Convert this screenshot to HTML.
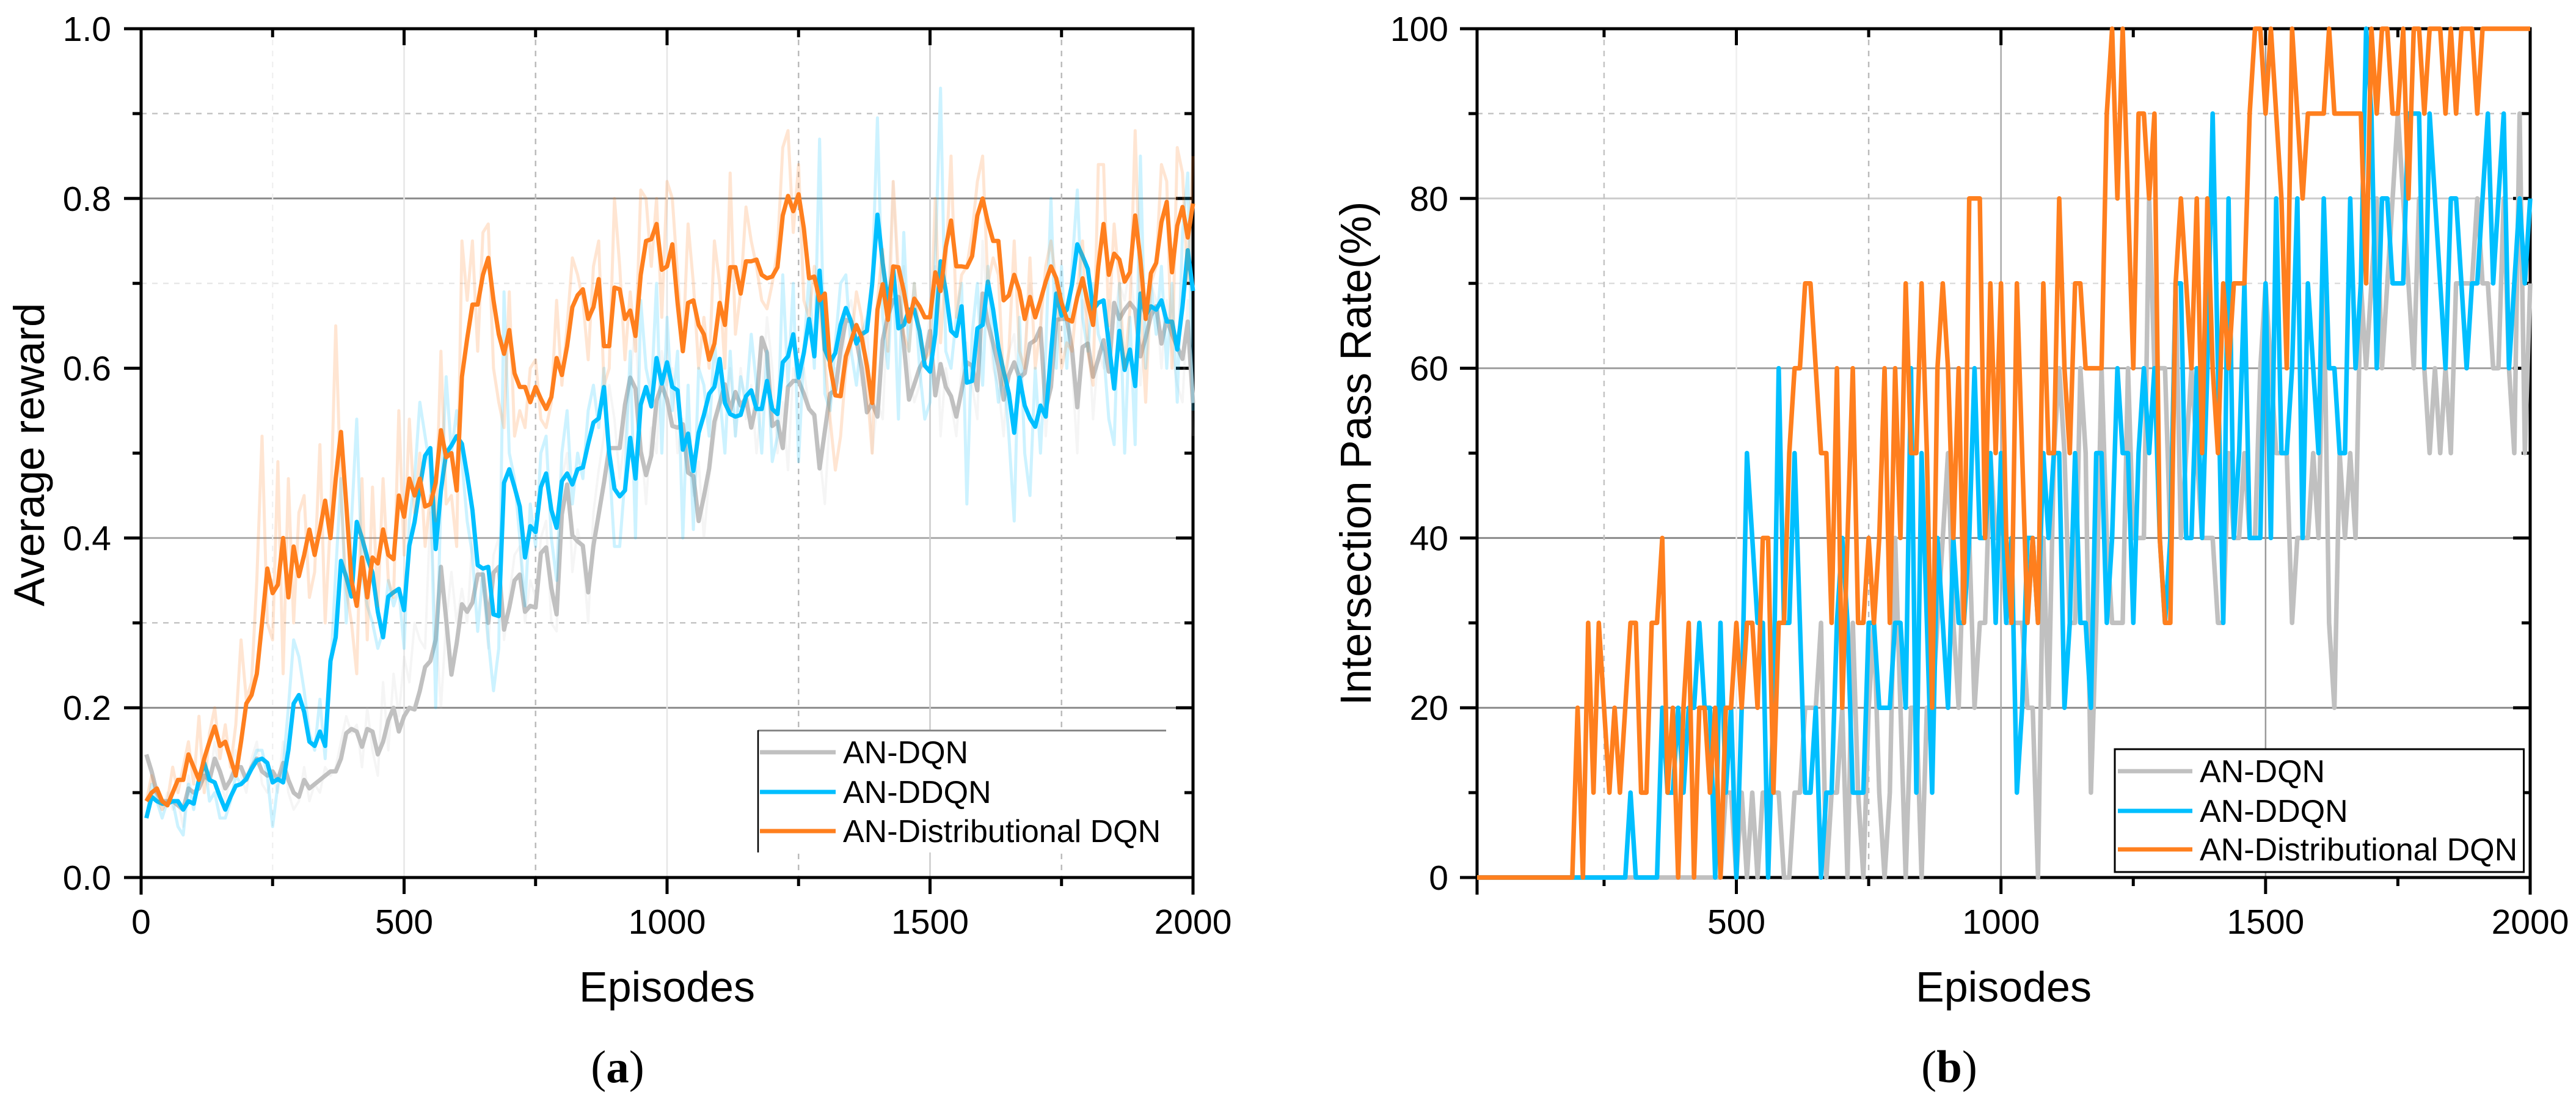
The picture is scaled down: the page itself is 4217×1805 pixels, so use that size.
<!DOCTYPE html>
<html lang="en">
<head>
<meta charset="utf-8">
<title>Average reward and intersection pass rate</title>
<style>
html,body{margin:0;padding:0;background:#fff;}
svg{display:block;font-family:"Liberation Sans",Arial,sans-serif;}
</style>
</head>
<body>
<svg id="figure" xmlns="http://www.w3.org/2000/svg" width="4217" height="1805" viewBox="0 0 4217 1805">
  <rect x="0" y="0" width="4217" height="1805" fill="#fff"/>
  <g id="chart-a"></g>
  <g id="chart-b"></g>

  <text transform="translate(72,744) rotate(-90)" text-anchor="middle" font-size="70.5">Average reward</text>
  <text x="1092" y="1639" text-anchor="middle" font-size="70">Episodes</text>
  <text x="1011" y="1771" text-anchor="middle" font-size="75" style="font-family:'Liberation Serif',serif">(<tspan font-weight="bold">a</tspan>)</text>

  <text transform="translate(2244,742) rotate(-90)" text-anchor="middle" font-size="71">Intersection Pass Rate(%)</text>
  <text x="3280" y="1639" text-anchor="middle" font-size="70">Episodes</text>
  <text x="3191" y="1771" text-anchor="middle" font-size="75" style="font-family:'Liberation Serif',serif">(<tspan font-weight="bold">b</tspan>)</text>

  <g>
    <rect x="1241" y="1195" width="668" height="200" fill="#fff"/>
    <line x1="1241" y1="1195.5" x2="1909" y2="1195.5" stroke="#888" stroke-width="3"/>
    <line x1="1241" y1="1195" x2="1241" y2="1395" stroke="#000" stroke-width="2.5"/>
    <g>
      <line x1="1244" y1="1231" x2="1368" y2="1231" stroke="#C0C0C0" stroke-width="7"/>
      <text x="1380" y="1249" font-size="52">AN-DQN</text>
    </g>
    <g>
      <line x1="1244" y1="1296" x2="1368" y2="1296" stroke="#00BFFF" stroke-width="7"/>
      <text x="1380" y="1314" font-size="52">AN-DDQN</text>
    </g>
    <g>
      <line x1="1244" y1="1360" x2="1368" y2="1360" stroke="#FF7F1E" stroke-width="7"/>
      <text x="1380" y="1378" font-size="52">AN-Distributional DQN</text>
    </g>
  </g>

  <g>
    <rect x="3462" y="1226" width="669.5" height="201" fill="#fff" stroke="#000" stroke-width="3"/>
    <g>
      <line x1="3467" y1="1262" x2="3589" y2="1262" stroke="#C0C0C0" stroke-width="7"/>
      <text x="3601" y="1280" font-size="52">AN-DQN</text>
    </g>
    <g>
      <line x1="3467" y1="1327" x2="3589" y2="1327" stroke="#00BFFF" stroke-width="7"/>
      <text x="3601" y="1345" font-size="52">AN-DDQN</text>
    </g>
    <g>
      <line x1="3467" y1="1390" x2="3589" y2="1390" stroke="#FF7F1E" stroke-width="7"/>
      <text x="3601" y="1408" font-size="52">AN-Distributional DQN</text>
    </g>
  </g>
</svg>

<script>
// Panel (a): one value every 10 episodes, starting at episode 10
const rewardDqn = [
.145,.125,.10,.09,.09,.09,.085,.08,.105,.10,
.105,.12,.115,.14,.125,.105,.115,.13,.13,.115,
.13,.14,.125,.12,.125,.115,.135,.115,.10,.095,
.115,.105,.11,.115,.12,.125,.125,.14,.17,.175,
.172,.154,.175,.172,.145,.16,.185,.20,.172,.19,
.20,.198,.22,.248,.255,.28,.366,.304,.239,.276,
.322,.313,.324,.357,.357,.30,.359,.366,.292,.318,
.35,.357,.313,.32,.318,.382,.389,.341,.31,.428,
.463,.403,.396,.391,.336,.391,.428,.465,.506,.506,
.506,.557,.589,.576,.502,.474,.497,.562,.58,.563,
.532,.53,.534,.477,.473,.42,.449,.482,.537,.559,
.581,.55,.572,.556,.565,.53,.559,.636,.618,.532,
.537,.506,.578,.585,.585,.57,.552,.545,.482,.526,
.57,.574,.622,.657,.655,.633,.60,.548,.559,.543,
.633,.662,.68,.684,.629,.563,.581,.60,.611,.644,
.568,.605,.578,.567,.543,.574,.607,.603,.574,.688,
.653,.629,.603,.563,.592,.607,.589,.594,.629,.633,
.647,.552,.578,.657,.658,.658,.622,.554,.625,.629,
.59,.611,.633,.596,.677,.658,.669,.677,.669,.614,
.636,.662,.673,.629,.658,.64,.625,.611,.655,.559
];
const rewardDdqn = [
.07,.095,.09,.087,.087,.09,.09,.08,.09,.087,
.115,.135,.115,.112,.095,.08,.095,.108,.11,.116,
.128,.138,.14,.135,.112,.116,.112,.15,.205,.215,
.195,.16,.155,.172,.155,.255,.283,.373,.354,.331,
.419,.40,.377,.359,.313,.283,.331,.336,.34,.315,
.391,.419,.46,.497,.506,.387,.456,.50,.509,.52,
.511,.474,.433,.368,.364,.366,.31,.308,.465,.481,
.46,.437,.377,.414,.407,.46,.476,.433,.412,.467,
.476,.463,.481,.483,.511,.536,.541,.578,.50,.458,
.449,.456,.518,.47,.557,.578,.555,.612,.582,.607,
.578,.574,.504,.523,.479,.524,.545,.57,.578,.611,
.559,.546,.543,.545,.567,.574,.552,.552,.585,.552,
.546,.607,.614,.64,.589,.618,.658,.614,.715,.622,
.607,.618,.651,.671,.655,.629,.64,.644,.699,.781,
.724,.677,.717,.647,.651,.669,.669,.644,.603,.596,
.64,.726,.691,.644,.638,.673,.583,.585,.647,.651,
.702,.669,.625,.596,.57,.524,.589,.556,.541,.531,
.556,.543,.618,.688,.662,.669,.699,.746,.732,.717,
.669,.677,.68,.629,.576,.644,.598,.622,.579,.688,
.662,.673,.669,.68,.655,.655,.622,.673,.739,.691
];
const rewardDistributional = [
.09,.10,.105,.09,.085,.10,.115,.115,.145,.13,
.115,.14,.16,.178,.155,.16,.14,.12,.16,.205,
.215,.24,.30,.364,.335,.345,.40,.33,.39,.355,
.38,.41,.38,.41,.444,.40,.47,.525,.44,.35,
.32,.377,.33,.377,.37,.41,.38,.375,.45,.425,
.47,.45,.47,.437,.44,.465,.527,.495,.50,.456,
.59,.635,.675,.675,.71,.73,.68,.64,.617,.645,
.594,.578,.578,.56,.578,.564,.552,.566,.612,.592,
.626,.672,.686,.693,.658,.672,.705,.626,.626,.695,
.693,.658,.668,.638,.71,.75,.752,.77,.716,.72,
.746,.677,.62,.677,.68,.651,.64,.61,.629,.677,
.651,.719,.719,.688,.726,.726,.728,.71,.706,.708,
.719,.78,.803,.785,.805,.765,.706,.708,.68,.688,
.603,.568,.567,.614,.633,.651,.636,.603,.559,.669,
.699,.657,.72,.719,.691,.655,.682,.673,.66,.66,
.713,.691,.743,.774,.72,.72,.719,.732,.78,.80,
.772,.75,.75,.68,.686,.71,.691,.658,.684,.66,
.68,.702,.72,.706,.677,.658,.655,.684,.706,.677,
.651,.72,.77,.71,.735,.728,.702,.713,.78,.728,
.658,.712,.724,.772,.796,.713,.768,.79,.754,.794
];
const rawRewardDqn = [
.14,.12,.09,.08,.10,.08,.09,.06,.12,.09,
.12,.13,.11,.16,.12,.09,.12,.15,.12,.10,
.14,.16,.11,.10,.12,.10,.16,.10,.08,.09,
.13,.09,.11,.10,.13,.12,.13,.16,.19,.17,
.18,.13,.20,.15,.12,.23,.15,.24,.19,.26,
.23,.30,.28,.27,.43,.30,.20,.30,.36,.30,
.34,.30,.40,.36,.34,.27,.38,.40,.28,.33,
.38,.39,.30,.35,.33,.40,.42,.30,.29,.47,
.50,.36,.41,.38,.30,.43,.48,.52,.58,.54,
.47,.52,.59,.65,.52,.44,.53,.50,.62,.58,
.60,.50,.54,.50,.45,.49,.40,.47,.52,.56,
.56,.60,.52,.60,.54,.58,.50,.56,.66,.60,
.50,.56,.48,.60,.58,.60,.55,.54,.50,.44,
.55,.60,.58,.66,.68,.64,.58,.66,.50,.56,
.54,.68,.82,.68,.72,.60,.56,.58,.62,.66,
.72,.52,.60,.56,.52,.60,.63,.58,.54,.75,
.66,.60,.58,.52,.62,.64,.56,.62,.70,.66,
.68,.52,.60,.70,.68,.66,.60,.50,.68,.66,
.54,.62,.60,.68,.66,.70,.68,.72,.66,.58,
.66,.70,.68,.60,.68,.62,.58,.56,.68,.52
];
const rawRewardDdqn = [
.07,.11,.09,.07,.09,.09,.06,.05,.11,.08,
.12,.14,.09,.10,.07,.07,.09,.12,.11,.12,
.13,.15,.15,.12,.06,.11,.13,.20,.28,.26,
.22,.17,.15,.21,.14,.24,.36,.47,.30,.42,
.54,.36,.32,.30,.27,.29,.35,.32,.34,.27,
.42,.47,.56,.52,.48,.20,.45,.59,.50,.55,
.49,.42,.38,.29,.36,.28,.22,.27,.69,.50,
.47,.40,.32,.44,.39,.50,.52,.40,.35,.50,
.55,.44,.50,.47,.55,.58,.53,.60,.49,.39,
.39,.47,.62,.40,.68,.60,.57,.70,.50,.66,
.55,.62,.40,.58,.41,.60,.58,.52,.63,.57,
.50,.62,.52,.59,.56,.64,.58,.50,.62,.49,
.52,.71,.58,.70,.49,.62,.71,.60,.87,.57,
.55,.63,.70,.71,.62,.58,.64,.66,.70,.895,
.66,.60,.72,.54,.76,.62,.70,.60,.54,.56,
.73,.93,.62,.60,.66,.70,.44,.64,.70,.58,
.72,.62,.56,.60,.52,.42,.66,.50,.45,.60,
.50,.62,.80,.60,.72,.60,.72,.81,.66,.62,
.70,.64,.62,.54,.51,.70,.50,.66,.51,.85,
.60,.70,.64,.72,.60,.70,.56,.76,.83,.55
];
const rawRewardDistributional = [
.09,.12,.10,.08,.09,.13,.10,.13,.16,.11,
.19,.10,.17,.20,.14,.18,.13,.18,.28,.21,
.23,.35,.52,.30,.28,.49,.24,.47,.30,.43,
.45,.33,.36,.51,.30,.42,.65,.45,.34,.30,
.24,.47,.28,.46,.32,.47,.35,.33,.55,.38,
.54,.43,.50,.39,.45,.42,.62,.44,.45,.39,
.75,.68,.75,.62,.76,.77,.60,.56,.53,.69,
.52,.55,.53,.60,.61,.54,.53,.56,.68,.58,
.65,.73,.71,.68,.61,.72,.75,.58,.60,.80,
.72,.61,.69,.62,.81,.80,.72,.80,.66,.82,
.80,.71,.62,.77,.70,.60,.66,.60,.75,.70,
.60,.83,.64,.69,.79,.75,.72,.68,.67,.70,
.74,.86,.88,.76,.84,.68,.66,.72,.67,.61,
.54,.48,.52,.60,.63,.69,.66,.58,.50,.68,
.74,.62,.82,.71,.64,.62,.70,.64,.61,.62,
.80,.63,.72,.85,.66,.71,.72,.76,.82,.85,
.70,.73,.71,.58,.62,.75,.62,.60,.73,.60,
.65,.72,.75,.70,.60,.63,.62,.69,.75,.62,
.58,.84,.84,.65,.77,.70,.60,.67,.88,.68,
.56,.70,.72,.84,.82,.60,.86,.83,.70,.85
];

// Panel (b): one value every 10 episodes, starting at episode 10
const passDqn = [
0,0,0,0,0,0,0,0,0,0,
0,0,0,0,0,0,0,0,0,0,
0,0,0,0,0,0,0,0,0,0,
0,0,0,0,0,0,0,0,0,0,
0,0,0,0,0,0,0,10,10,0,
10,0,10,0,10,10,10,10,0,0,
10,10,20,20,20,30,0,10,10,20,
0,30,10,0,20,30,10,0,10,40,
20,0,20,20,0,20,20,30,40,50,
30,20,40,40,20,30,30,50,40,40,
30,30,30,30,20,20,0,40,20,50,
60,50,30,30,60,50,10,30,60,40,
30,30,30,60,40,40,40,80,60,60,
60,40,70,40,50,60,50,40,40,40,
30,30,50,40,40,50,40,40,60,70,
60,50,50,50,30,40,40,40,50,40,
70,30,20,50,40,50,40,70,60,70,
80,60,70,80,90,80,70,60,80,60,
50,60,50,60,50,70,70,70,70,80,
70,70,60,60,80,60,50,90,50,70
];
const passDdqn = [
0,0,0,0,0,0,0,0,0,0,
0,0,0,0,0,0,0,0,0,0,
0,0,0,0,0,0,0,0,0,10,
0,0,0,0,0,20,10,10,20,10,
20,20,30,20,20,0,30,10,20,0,
20,50,40,30,30,0,20,60,30,30,
50,30,10,10,20,0,10,10,30,40,
30,10,10,10,30,30,20,20,20,30,
30,20,60,10,50,30,10,40,30,20,
40,30,30,40,60,40,40,50,30,50,
30,40,10,20,40,40,30,50,40,50,
50,20,30,50,30,30,20,50,50,30,
40,60,50,50,30,50,60,50,60,40,
30,40,70,70,40,40,60,40,60,90,
60,30,80,40,50,70,40,40,40,70,
40,80,50,50,60,80,40,70,60,50,
80,60,60,50,50,80,60,70,100,90,
60,80,80,70,70,70,90,90,90,60,
90,80,70,60,80,80,70,60,70,70,
80,90,70,80,90,60,70,80,70,80
];
const passDistributional = [
0,0,0,0,0,0,0,0,0,0,
0,0,0,0,0,0,0,0,0,20,
0,30,10,30,20,10,20,10,20,30,
30,10,10,30,30,40,10,20,0,20,
30,0,20,20,10,20,0,20,20,30,
20,30,30,20,40,40,10,30,30,50,
60,60,70,70,60,50,50,30,60,20,
40,60,30,30,40,30,40,60,30,60,
40,70,50,50,70,50,20,60,70,60,
40,60,30,80,80,80,40,70,50,70,
40,30,70,50,30,40,30,70,50,50,
80,60,50,70,70,60,60,60,60,90,
100,80,100,80,60,90,90,80,90,40,
30,30,70,80,70,60,80,50,80,60,
50,70,60,70,70,70,90,100,100,90,
100,90,80,60,100,90,80,90,90,90,
90,100,90,90,90,90,90,90,70,100,
90,100,100,90,90,100,80,100,100,90,
100,100,100,90,100,90,100,100,100,90,
100,100,100,100,100,100,100,100,100,100
];

// Tick labels
const rewardTickLabels = ["0.0","0.2","0.4","0.6","0.8","1.0"];
const passTickLabels = ["0","20","40","60","80","100"];
const episodeTickLabelsA = ["0","500","1000","1500","2000"];
const episodeTickLabelsB = ["500","1000","1500","2000"];

const NS = "http://www.w3.org/2000/svg";
const plotTop = 47, plotBottom = 1436;
const aLeft = 231, aRight = 1953, bLeft = 2418, bRight = 4142;
const sampleStep = 10;

function xA(e){ return aLeft + (e - 0) / 2000 * (aRight - aLeft); }
function yA(v){ return plotBottom - (v / 1) * (plotBottom - plotTop); }
function xB(e){ return bLeft + (e - 10) / 1990 * (bRight - bLeft); }
function yB(v){ return plotBottom - (v / 100) * (plotBottom - plotTop); }

function mk(tag, parent, attrs){
  const el = document.createElementNS(NS, tag);
  for (const k in attrs) el.setAttribute(k, attrs[k]);
  parent.appendChild(el);
  return el;
}
function seg(parent, x1, y1, x2, y2, color, w, dash){
  const attrs = {x1:x1, y1:y1, x2:x2, y2:y2, stroke:color, "stroke-width":w};
  if (dash) attrs["stroke-dasharray"] = dash;
  const el = mk("line", parent, attrs);
  
  
  return el;
}
function drawSeries(parent, values, xf, yf, color, width, opacity, name){
  let pts = "";
  for (let i = 0; i < values.length; i++){
    pts += xf((i + 1) * sampleStep).toFixed(1) + "," + yf(values[i]).toFixed(1) + " ";
  }
  const el = mk("polyline", parent, {points:pts, fill:"none", stroke:color, "stroke-width":width, "stroke-opacity":opacity, "stroke-linejoin":"round"});
  
  
  return el;
}
function label(parent, x, y, txt, anchor, name){
  const el = mk("text", parent, {x:x, y:y, "text-anchor":anchor, "font-size":57});
  el.textContent = txt;
  
  
  return el;
}
function frame(g, left, right, xf, yf, yValues, yMinor, xMajor, xMinor){
  const top = plotTop, bottom = plotBottom;
  seg(g, left, top, right, top, "#000", 5);
  seg(g, left, bottom, right, bottom, "#000", 5);
  seg(g, left, top - 2.5, left, bottom + 28, "#000", 5);
  seg(g, right, top - 2.5, right, bottom + 28, "#000", 5);
  yValues.forEach(function(v){
    seg(g, left - 28, yf(v), left, yf(v), "#000", 5);
    if (yf(v) > top + 2 && yf(v) < bottom - 2) seg(g, right - 28, yf(v), right, yf(v), "#000", 5);
  });
  yMinor.forEach(function(v){
    seg(g, left - 14, yf(v), left, yf(v), "#000", 5);
    seg(g, right - 14, yf(v), right, yf(v), "#000", 5);
  });
  xMajor.forEach(function(e){
    seg(g, xf(e), top, xf(e), top + 27, "#000", 5);
    seg(g, xf(e), bottom, xf(e), bottom + 27, "#000", 5);
  });
  xMinor.forEach(function(e){
    seg(g, xf(e), top, xf(e), top + 14, "#000", 5);
    seg(g, xf(e), bottom, xf(e), bottom + 14, "#000", 5);
  });
}

// ---- Panel (a) ----
const ga = document.getElementById("chart-a");
seg(ga, aLeft, yA(0.8), aRight, yA(0.8), "#8a8a8a", 3);
seg(ga, aLeft, yA(0.4), aRight, yA(0.4), "#aaaaaa", 3);
seg(ga, aLeft, yA(0.2), aRight, yA(0.2), "#8a8a8a", 3);
seg(ga, aLeft, yA(0.9), aRight, yA(0.9), "#c4c4c4", 2.5, "9 9");
seg(ga, aLeft, yA(0.7), aRight, yA(0.7), "#e8e8e8", 2.5, "9 9");
seg(ga, aLeft, yA(0.3), aRight, yA(0.3), "#c4c4c4", 2.5, "9 9");
seg(ga, xA(250), plotTop, xA(250), plotBottom, "#eeeeee", 2, "9 9");
seg(ga, xA(500), plotTop, xA(500), plotBottom, "#e6e6e6", 2.5);
seg(ga, xA(750), plotTop, xA(750), plotBottom, "#bbbbbb", 2.5, "9 9");
seg(ga, xA(1000), plotTop, xA(1000), plotBottom, "#e6e6e6", 2.5);
seg(ga, xA(1250), plotTop, xA(1250), plotBottom, "#bbbbbb", 2.5, "9 9");
seg(ga, xA(1500), plotTop, xA(1500), plotBottom, "#cccccc", 2.5);
seg(ga, xA(1750), plotTop, xA(1750), plotBottom, "#bbbbbb", 2.5, "9 9");
frame(ga, aLeft, aRight, xA, yA, [0,0.2,0.4,0.6,0.8,1.0], [0.1,0.3,0.5,0.7,0.9], [500,1000,1500], [250,750,1250,1750]);
rewardTickLabels.forEach(function(t){
  label(ga, 182, yA(parseFloat(t)) + 20, t, "end", "y-tick-label-a");
});
episodeTickLabelsA.forEach(function(t){
  label(ga, xA(parseFloat(t)), 1528, t, "middle", "x-tick-label-a");
});
drawSeries(ga, rawRewardDqn, xA, yA, "#C0C0C0", 4, 0.16, "raw-line-an-dqn-a");
drawSeries(ga, rewardDqn, xA, yA, "#C0C0C0", 7, 1, "line-an-dqn-a");
drawSeries(ga, rawRewardDdqn, xA, yA, "#00BFFF", 5, 0.2, "raw-line-an-ddqn-a");
drawSeries(ga, rewardDdqn, xA, yA, "#00BFFF", 7, 1, "line-an-ddqn-a");
drawSeries(ga, rawRewardDistributional, xA, yA, "#FF7F1E", 5, 0.2, "raw-line-an-distributional-dqn-a");
drawSeries(ga, rewardDistributional, xA, yA, "#FF7F1E", 7, 1, "line-an-distributional-dqn-a");

// ---- Panel (b) ----
const gb = document.getElementById("chart-b");
seg(gb, bLeft, yB(80), bRight, yB(80), "#cccccc", 3);
seg(gb, bLeft, yB(60), bRight, yB(60), "#a0a0a0", 3);
seg(gb, bLeft, yB(40), bRight, yB(40), "#8a8a8a", 3);
seg(gb, bLeft, yB(20), bRight, yB(20), "#8a8a8a", 3);
seg(gb, bLeft, yB(90), bRight, yB(90), "#c4c4c4", 2.5, "9 9");
seg(gb, bLeft, yB(70), bRight, yB(70), "#dddddd", 2.5, "9 9");
seg(gb, xB(250), plotTop, xB(250), plotBottom, "#c4c4c4", 2.5, "9 9");
seg(gb, xB(500), plotTop, xB(500), plotBottom, "#eeeeee", 2.5);
seg(gb, xB(750), plotTop, xB(750), plotBottom, "#bbbbbb", 2.5, "9 9");
seg(gb, xB(1000), plotTop, xB(1000), plotBottom, "#aaaaaa", 2.5);
seg(gb, xB(1500), plotTop, xB(1500), plotBottom, "#999999", 2.5);
frame(gb, bLeft, bRight, xB, yB, [0,20,40,60,80,100], [10,30,50,70,90], [500,1000,1500], [250,750,1250,1750]);
passTickLabels.forEach(function(t){
  label(gb, 2371, yB(parseFloat(t)) + 20, t, "end", "y-tick-label-b");
});
episodeTickLabelsB.forEach(function(t){
  label(gb, xB(parseFloat(t)), 1528, t, "middle", "x-tick-label-b");
});
drawSeries(gb, passDqn, xB, yB, "#C0C0C0", 7.5, 1, "line-an-dqn-b");
drawSeries(gb, passDdqn, xB, yB, "#00BFFF", 7.5, 1, "line-an-ddqn-b");
drawSeries(gb, passDistributional, xB, yB, "#FF7F1E", 7.5, 1, "line-an-distributional-dqn-b");
</script>
</body>
</html>
